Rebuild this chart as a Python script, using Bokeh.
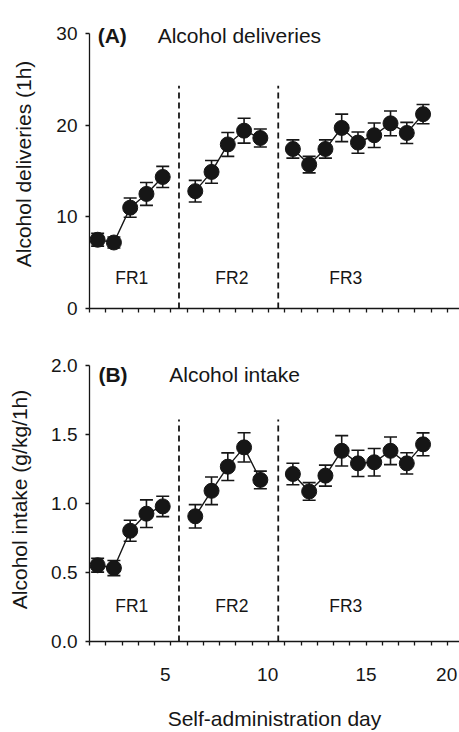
import numpy as np
from bokeh.plotting import figure
from bokeh.layouts import column
from bokeh.models import Range1d, FixedTicker, Whisker, TeeHead, ColumnDataSource, Label
from bokeh.embed import file_html
from bokeh.resources import INLINE
from bokeh.core.properties import value

# ---------------- data ----------------
# x positions of the 19 sessions on the day axis (gaps between schedules)
day_pos = [1, 2, 3, 4, 5, 7, 8, 9, 10, 11, 13, 14, 15, 16, 17, 18, 19, 20, 21]
phase_sizes = [5, 5, 9]
phase_labels = ["FR1", "FR2", "FR3"]
phase_label_x = [3.1, 9.25, 16.25]
divider_x = [6.0, 12.1]

deliveries = [7.5, 7.2, 11.0, 12.5, 14.35,
              12.8, 14.9, 17.9, 19.4, 18.6,
              17.4, 15.7, 17.4, 19.7, 18.1, 18.9, 20.2, 19.15, 21.2]
deliveries_sem = [0.7, 0.6, 1.05, 1.25, 1.15,
                  1.18, 1.24, 1.3, 1.36, 0.98,
                  1.0, 0.9, 1.0, 1.5, 1.16, 1.33, 1.35, 1.15, 1.05]

intake = [0.553, 0.533, 0.803, 0.927, 0.98,
          0.908, 1.093, 1.268, 1.408, 1.172,
          1.215, 1.088, 1.203, 1.383, 1.292, 1.30, 1.383, 1.292, 1.43]
intake_sem = [0.05, 0.055, 0.076, 0.1, 0.074,
              0.085, 0.1, 0.1, 0.106, 0.064,
              0.078, 0.064, 0.076, 0.11, 0.095, 0.1, 0.1, 0.077, 0.083]

x_ticks = [5.15, 11.45, 17.5, 22.45]
x_tick_labels = ["5", "10", "15", "20"]
x_minor_ticks = [0.5 + i for i in range(23)]

y1_ticks = [0, 10, 20, 30]
y2_ticks = [0.0, 0.5, 1.0, 1.5, 2.0]
y2_tick_labels = ["0.0", "0.5", "1.0", "1.5", "2.0"]

FONT = "Liberation Sans"
INK = "#161616"
X_START, X_END = 0.5, 23.24


def base_fig(height, top, bottom, y_end, y_max):
    p = figure(width=459, height=height,
               x_range=Range1d(X_START, X_END), y_range=Range1d(0, y_end),
               output_backend="svg", toolbar_location=None,
               min_border_left=89, min_border_right=0,
               min_border_top=top, min_border_bottom=bottom)
    p.grid.visible = False
    p.outline_line_color = None
    p.background_fill_color = "white"
    p.border_fill_color = "white"
    for ax in (p.xaxis[0], p.yaxis[0]):
        ax.axis_line_color = INK
        ax.axis_line_width = 1.3
        ax.major_tick_line_color = INK
        ax.major_tick_line_width = 1.3
        ax.minor_tick_line_color = INK
        ax.minor_tick_line_width = 1.3
        ax.major_label_text_font = FONT
        ax.major_label_text_font_size = "19px"
        ax.major_label_text_color = INK
        ax.axis_label_text_font = FONT
        ax.axis_label_text_font_size = "21px"
        ax.axis_label_text_font_style = "normal"
        ax.axis_label_text_color = INK
    # x axis: minor ticks between days, labels at chosen places
    p.xaxis.major_tick_out = 0
    p.xaxis.major_tick_in = 0
    p.xaxis.minor_tick_out = 4
    p.xaxis.minor_tick_in = 0
    # y axis
    p.yaxis.bounds = (0, y_max)
    p.yaxis.major_tick_out = 4
    p.yaxis.major_tick_in = 0
    p.yaxis.minor_tick_line_color = None
    p.yaxis.major_label_standoff = 8
    return p


def draw_series(p, y, sem, div_top, lab_y):
    y = np.asarray(y, dtype=float)
    sem = np.asarray(sem, dtype=float)
    src = ColumnDataSource(dict(x=day_pos, y=y, lo=y - sem, hi=y + sem))
    # dashed dividers between schedules
    p.segment(x0=divider_x, y0=[0, 0], x1=divider_x, y1=[div_top, div_top],
              line_color=INK, line_width=1.8, line_dash="6 4")
    # connecting lines per schedule
    start = 0
    for n in phase_sizes:
        p.line(day_pos[start:start + n], list(y[start:start + n]),
               line_color=INK, line_width=1.4)
        start += n
    w = Whisker(base="x", lower="lo", upper="hi", source=src,
                line_color=INK, line_width=1.6,
                upper_head=TeeHead(size=13, line_color=INK, line_width=1.6),
                lower_head=TeeHead(size=13, line_color=INK, line_width=1.6))
    p.add_layout(w)
    p.scatter("x", "y", source=src, size=15, fill_color=INK, line_color=INK)
    p.text(x=phase_label_x, y=[lab_y] * 3, text=phase_labels,
           text_align="center", text_baseline="middle",
           text_font=value(FONT), text_font_size="17.5px", text_color=INK)


def add_title(p, x_tag, x_txt, y, tag, txt):
    p.add_layout(Label(x=x_tag, y=y, text=tag, text_font=FONT, text_font_size="21px",
                       text_font_style="bold", text_color=INK, text_baseline="alphabetic"))
    p.add_layout(Label(x=x_txt, y=y, text=txt, text_font=FONT, text_font_size="21px",
                       text_color=INK, text_baseline="alphabetic"))


# ---------------- panel A ----------------
# frame: 19..308 px, 275 px for 0..30
A_TOP, A_H = 19, 289
pa = base_fig(340, A_TOP, 340 - A_TOP - A_H, A_H / (275 / 30), 30)
pa.xaxis.ticker = FixedTicker(ticks=[], minor_ticks=x_minor_ticks)
pa.yaxis.ticker = FixedTicker(ticks=y1_ticks)
pa.yaxis.axis_label = "Alcohol deliveries (1h)"
pa.yaxis.axis_label_standoff = 18
draw_series(pa, deliveries, deliveries_sem, 24.3, 3.38)
add_title(pa, 1.0, 4.69, 29.8, "(A)", "Alcohol deliveries")

# ---------------- panel B ----------------
# frame: 357..643 px, 277.7 px for 0..2
B_TOP, B_H = 17, 286
pb = base_fig(392, B_TOP, 392 - B_TOP - B_H, B_H / (277.7 / 2.0), 2.0)
pb.xaxis.ticker = FixedTicker(ticks=x_ticks, minor_ticks=x_minor_ticks)
pb.xaxis.major_label_overrides = dict(zip(x_ticks, x_tick_labels))
pb.xaxis.major_label_standoff = 22
pb.xaxis.axis_label = "Self-administration day"
pb.xaxis.axis_label_standoff = 23
pb.yaxis.ticker = FixedTicker(ticks=y2_ticks)
pb.yaxis.major_label_overrides = dict(zip(y2_ticks, y2_tick_labels))
pb.yaxis.axis_label = "Alcohol intake (g/kg/1h)"
pb.yaxis.axis_label_standoff = 17
draw_series(pb, intake, intake_sem, 1.61, 0.259)
add_title(pb, 1.05, 5.4, 1.94, "(B)", "Alcohol intake")

layout = column(pa, pb, spacing=0)
open("out.html", "w").write(file_html(layout, INLINE))
